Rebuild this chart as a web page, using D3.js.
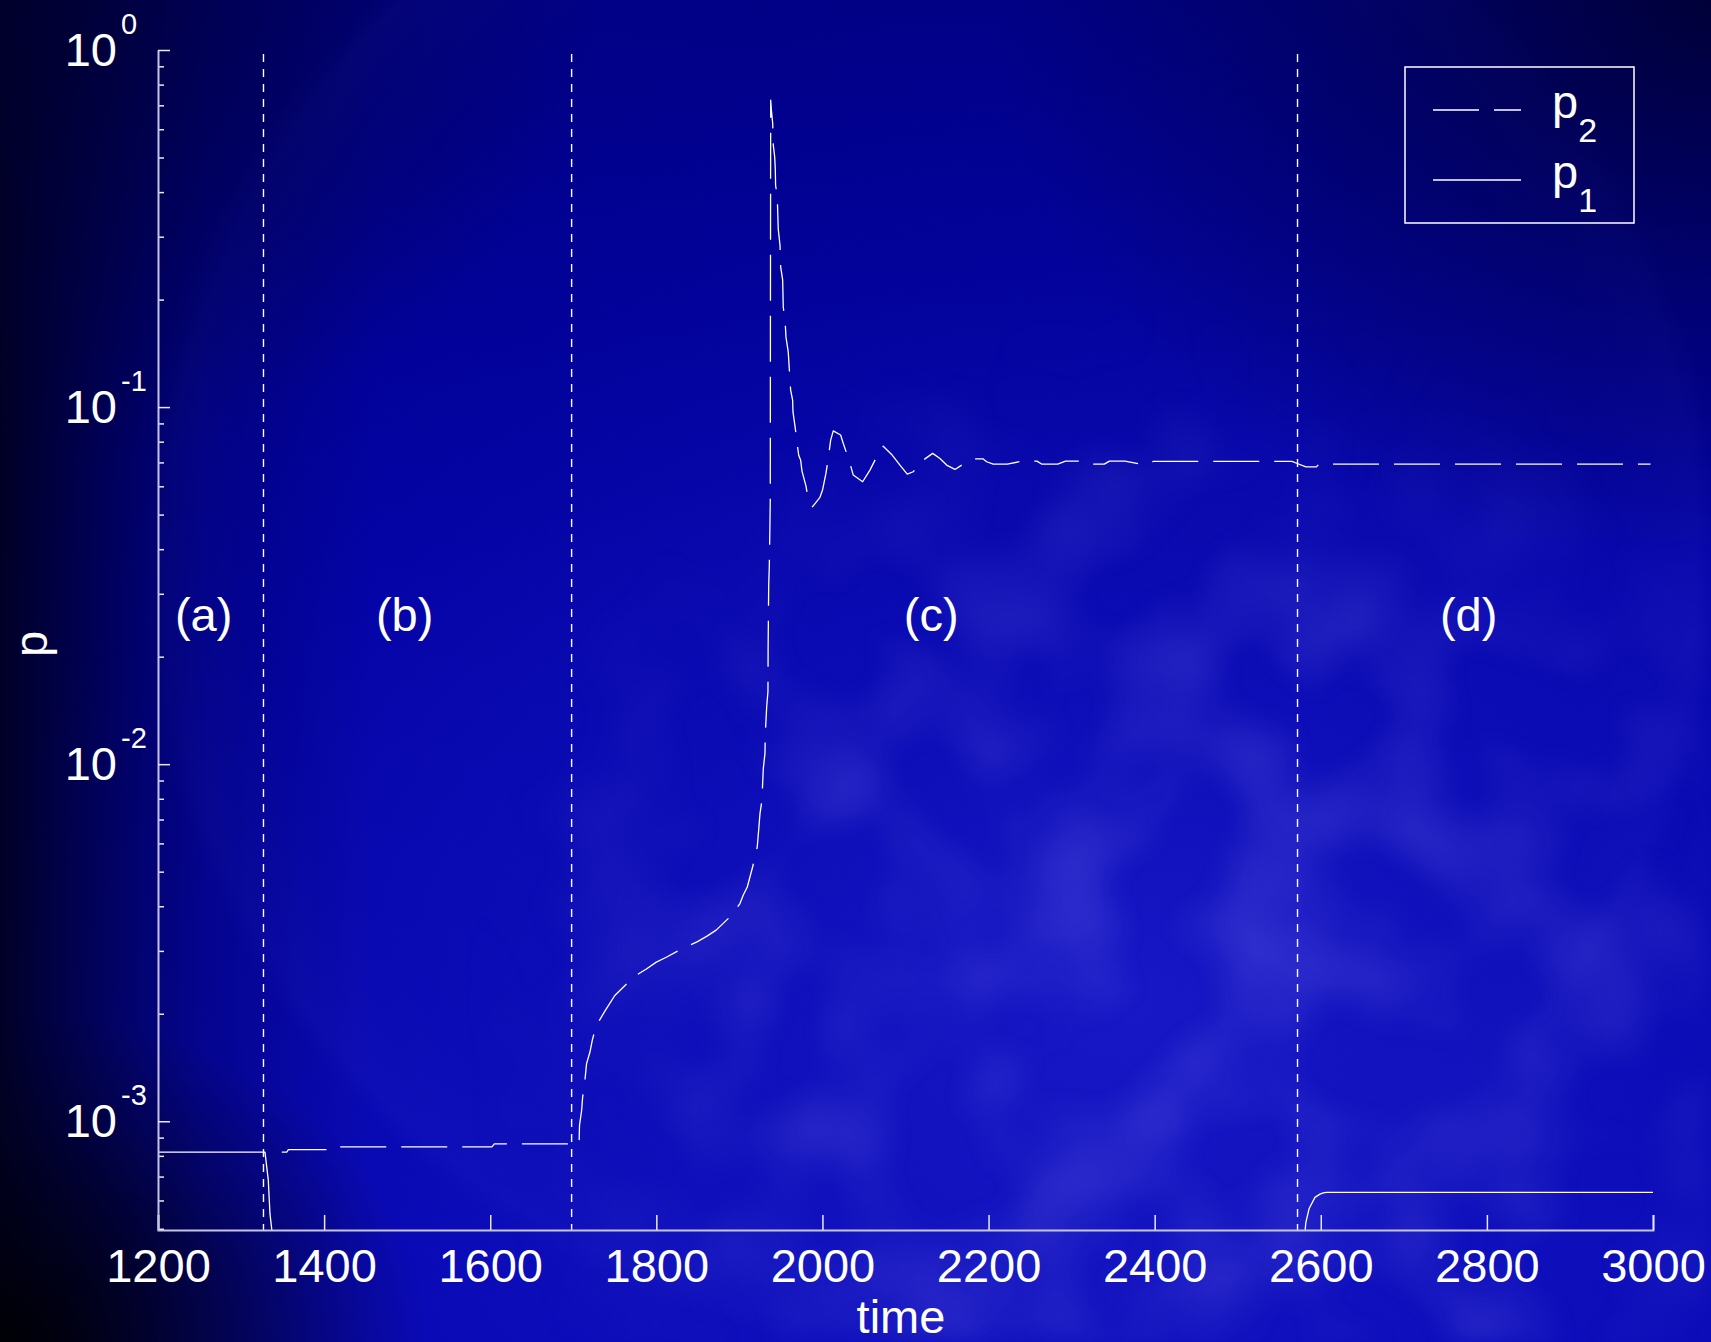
<!DOCTYPE html>
<html><head><meta charset="utf-8">
<script src="https://cdn.jsdelivr.net/npm/d3@7"></script>
<style>html,body{margin:0;padding:0;background:#000;overflow:hidden}</style>
</head><body>
<svg id="chart" width="1711" height="1342"></svg>
<script>
// ---------------- DATA ----------------
const xTickValues = [1200, 1400, 1600, 1800, 2000, 2200, 2400, 2600, 2800, 3000];
const yMajorTicks = [1e-3, 1e-2, 1e-1, 1];
const yTickExponents = ["-3", "-2", "-1", "0"];
const yMinorTicks = [5e-4,6e-4,7e-4,8e-4,9e-4, 2e-3,3e-3,4e-3,5e-3,6e-3,7e-3,8e-3,9e-3,
                     2e-2,3e-2,4e-2,5e-2,6e-2,7e-2,8e-2,9e-2, 0.2,0.3,0.4,0.5,0.6,0.7,0.8,0.9];
const regionBoundaries = [1327, 1698, 2572];
const regionLabels = ["(a)", "(b)", "(c)", "(d)"];
const regionLabelTimes = [1255, 1497, 2131, 2778];
const regionLabelLevel = 0.0236;
const seriesNames = ["p2", "p1"];

// p1 (solid): null marks a break (curve is far below the axis in between)
const p1Time  = [1200, 1328.8, 1330.9, 1332.8, 1334.0, 1334.8, 1336.9, 1339, null, 2578, 2581, 2582, 2586, 2593, 2599, 2603, 2607, 3000];
const p1Value = [8.2e-4, 8.2e-4, 7.45e-4, 6.84e-4, 6.01e-4, 5.51e-4, 5.0e-4, 4.0e-4, null, 4.0e-4, 4.9e-4, 5.2e-4, 5.7e-4, 6.12e-4, 6.25e-4, 6.3e-4, 6.32e-4, 6.32e-4];

// p2 (dashed)
const p2Time = [1349, 1355, 1357, 1406, 1409, 1602, 1605, 1707, 1707.5, 1710, 1711.3, 1714, 1716, 1720, 1723, 1725, 1728,
  1739, 1750, 1773, 1788, 1800, 1812, 1832, 1849, 1861, 1872, 1891, 1900.7, 1904.7, 1909.5, 1912.7, 1916, 1918.8,
  1921.5, 1923.2, 1924.8, 1927.2, 1928.0, 1928.8, 1930.8, 1931.2, 1932.9, 1934.4, 1934.6, 1935.3, 1936.0, 1936.8,
  1937.2, 1937.4, 1937.7, 1938.5, 1940.1, 1940.8, 1942.5, 1943.2, 1943.6, 1945.6, 1946.8, 1948.9, 1949.7, 1952.1,
  1952.8, 1955.2, 1956.1, 1958.8, 1961.7, 1964.1, 1964.5, 1967.3, 1969.0, 1971.4, 1973.8, 1975.3, 1980.2, 1981.7,
  1988.2, 1997.0, 2000.3, 2004.2, 2007.0, 2009.9, 2013.0, 2021.9, 2025.1, 2029.2, 2033.1, 2037.1, 2048.4, 2057.2,
  2065.3, 2073.2, 2083.3, 2093.3, 2102.1, 2109.3, 2117.4, 2132.7, 2141.5, 2149.5, 2159.5, 2169.5, 2181.6, 2193.6,
  2197.7, 2205.6, 2222.5, 2241, 2258.3, 2264.3, 2283.3, 2292.6, 2312.4, 2320.6, 2339.3, 2345.6, 2364.2, 2383,
  2392.3, 2398.5, 2565.3, 2572.5, 2582.1, 2594.7, 2597.8, 2997];
const p2Value = [8.2e-4, 8.2e-4, 8.33e-4, 8.33e-4, 8.48e-4, 8.48e-4, 8.64e-4, 8.64e-4, 9.75e-4, 1.07e-3, 1.17e-3, 1.30e-3,
  1.45e-3, 1.56e-3, 1.69e-3, 1.76e-3, 1.86e-3, 2.05e-3, 2.25e-3, 2.54e-3, 2.67e-3, 2.79e-3, 2.88e-3, 3.05e-3, 3.18e-3,
  3.30e-3, 3.43e-3, 3.78e-3, 4.07e-3, 4.30e-3, 4.53e-3, 4.83e-3, 5.16e-3, 5.50e-3, 5.87e-3, 6.53e-3, 7.27e-3, 7.93e-3,
  8.83e-3, 9.73e-3, 0.0107, 0.0122, 0.0145, 0.0160, 0.0213, 0.0317, 0.0357, 0.0473, 0.0549, 0.2, 0.724, 0.68, 0.623,
  0.542, 0.502, 0.466, 0.418, 0.388, 0.315, 0.284, 0.247, 0.227, 0.191, 0.1716, 0.157, 0.1428, 0.1116, 0.1046, 0.0971,
  0.0872, 0.0808, 0.0733, 0.0710, 0.0663, 0.0601, 0.0573, 0.0526, 0.0559, 0.0588, 0.0652, 0.0718, 0.0808, 0.0858,
  0.0835, 0.0791, 0.0742, 0.0696, 0.0645, 0.0618, 0.0666, 0.0726, 0.0777, 0.0737, 0.0688, 0.0649, 0.0659, 0.0700,
  0.0742, 0.0718, 0.0688, 0.0669, 0.0692, 0.0716, 0.0716, 0.0703, 0.0692, 0.0692, 0.0706, 0.0706, 0.0692, 0.0692,
  0.0706, 0.0706, 0.0692, 0.0692, 0.0706, 0.0706, 0.0692, 0.0692, 0.0705, 0.0705, 0.0694, 0.0680, 0.0680, 0.0692, 0.0692];

// ---------------- CHART ----------------
const W = 1711, H = 1342;
const FONT = "'Liberation Sans', Arial, Helvetica, sans-serif";
const svg = d3.select("#chart");
const defs = svg.append("defs");
function grad(type, id, attrs, stops) {
  const g = defs.append(type).attr("id", id);
  Object.entries(attrs).forEach(([k,v]) => g.attr(k, v));
  stops.forEach(s => g.append("stop").attr("offset", s[0]).attr("stop-color", s[1]).attr("stop-opacity", s[2] == null ? 1 : s[2]));
  return g;
}

// background
grad("linearGradient","bgV",{x1:0,y1:0,x2:0,y2:1},[[0,"#000084"],[0.45,"#0000a0"],[1,"#0808b4"]]);
grad("linearGradient","bgL",{x1:0,y1:0,x2:1,y2:0},[[0,"#000018",0.9],[0.05,"#000028",0.66],[0.12,"#000040",0.28],[0.22,"#000050",0]]);
grad("radialGradient","cTR",{cx:1,cy:0,r:0.42},[[0,"#000030",0.9],[0.5,"#000040",0.45],[1,"#000040",0]]);
grad("radialGradient","cTL",{cx:0,cy:0,r:0.35},[[0,"#000030",0.7],[1,"#000030",0]]);
grad("radialGradient","cBL",{cx:0,cy:1,r:0.25},[[0,"#000005",1],[0.5,"#000010",0.55],[1,"#000020",0]]);
grad("radialGradient","glow",{cx:0.66,cy:0.75,r:0.75},[[0,"#1e1ed0",0.75],[0.55,"#1212c0",0.45],[1,"#0000a8",0]]);
grad("radialGradient","globe",{gradientUnits:"userSpaceOnUse",cx:930,cy:560,r:790},
  [[0,"#2020c0",0],[0.85,"#2020c0",0.05],[0.97,"#3030d0",0.12],[1,"#3030d0",0]]);

const mottle = defs.append("filter").attr("id","mottle").attr("x",0).attr("y",0).attr("width",W).attr("height",H).attr("filterUnits","userSpaceOnUse");
mottle.append("feTurbulence").attr("type","fractalNoise").attr("baseFrequency","0.009").attr("numOctaves",2).attr("seed",7).attr("result","n");
mottle.append("feColorMatrix").attr("in","n").attr("type","matrix")
  .attr("values","0 0 0 0 0.22  0 0 0 0 0.22  0 0 0 0 0.90  1.6 0 0 0 -0.62");
mottle.append("feGaussianBlur").attr("stdDeviation",9);
grad("radialGradient","mmask",{gradientUnits:"userSpaceOnUse",cx:1180,cy:1020,r:720},[[0,"#fff",1],[0.6,"#fff",0.7],[1,"#fff",0]]);
defs.append("mask").attr("id","mottleMask").append("rect").attr("width",W).attr("height",H).attr("fill","url(#mmask)");

svg.append("rect").attr("width",W).attr("height",H).attr("fill","url(#bgV)");
svg.append("rect").attr("width",W).attr("height",H).attr("fill","url(#glow)");
svg.append("circle").attr("cx",930).attr("cy",560).attr("r",790).attr("fill","url(#globe)");
svg.append("g").attr("mask","url(#mottleMask)").append("rect").attr("width",W).attr("height",H).attr("filter","url(#mottle)").attr("opacity",0.4);
svg.append("rect").attr("width",W).attr("height",H).attr("fill","url(#bgL)");
svg.append("rect").attr("width",W).attr("height",H).attr("fill","url(#cTR)");
svg.append("rect").attr("width",W).attr("height",H).attr("fill","url(#cTL)");
svg.append("rect").attr("width",W).attr("height",H).attr("fill","url(#cBL)");

// scales
const M = {left:158, right:1653, top:50, bottom:1230};
const x = d3.scaleLinear().domain([1200, 3000]).range([M.left, M.right]);
const y = d3.scaleLog().domain([4.96e-4, 1]).range([M.bottom, M.top]);

defs.append("clipPath").attr("id","plotClip").append("rect")
  .attr("x",M.left).attr("y",M.top-2).attr("width",M.right-M.left+2).attr("height",M.bottom-M.top+3);

// region boundary lines
svg.append("g").selectAll("line").data(regionBoundaries).join("line")
  .attr("x1",d=>x(d)).attr("x2",d=>x(d)).attr("y1",M.top+4).attr("y2",M.bottom)
  .attr("stroke","#ffffff").attr("stroke-width",1.4).attr("stroke-dasharray","8,7");

// region labels
svg.append("g").selectAll("text").data(regionLabels).join("text")
  .attr("x",(d,i)=>x(regionLabelTimes[i])).attr("y",y(regionLabelLevel))
  .attr("text-anchor","middle").attr("fill","#fff").attr("font-family",FONT).attr("font-size",47)
  .text(d=>d);

// data lines
const line = d3.line().defined(d=>d.t!=null && d.p!=null).x(d=>x(d.t)).y(d=>y(d.p));
const p1Data = p1Time.map((t,i)=>({t, p:p1Value[i]}));
const p2Data = p2Time.map((t,i)=>({t, p:p2Value[i]}));
const plot = svg.append("g").attr("clip-path","url(#plotClip)");
plot.append("path").datum(p1Data).attr("d",line).attr("fill","none")
  .attr("stroke","#ffffff").attr("stroke-width",1.3).attr("stroke-linejoin","round");
plot.append("path").datum(p2Data).attr("d",line).attr("fill","none")
  .attr("stroke","#ffffff").attr("stroke-width",1.3).attr("stroke-dasharray","46,15").attr("stroke-linejoin","round");

// axes
const axisColor = "#c4c4e4";
const xAxis = svg.append("g").attr("transform",`translate(0,${M.bottom})`)
  .call(d3.axisBottom(x).tickValues(xTickValues).tickSize(-15).tickFormat(d3.format("d")));
xAxis.select(".domain").attr("stroke",axisColor).attr("stroke-width",2);
xAxis.selectAll(".tick line").attr("stroke","#e8e8f4").attr("stroke-width",1.5);
xAxis.selectAll(".tick text").attr("y",52).attr("dy",null).attr("fill","#fff")
  .attr("font-family",FONT).attr("font-size",47);

const yMinor = svg.append("g").attr("transform",`translate(${M.left},0)`)
  .call(d3.axisLeft(y).tickValues(yMinorTicks).tickSize(-6).tickFormat(""));
yMinor.select(".domain").remove();
yMinor.selectAll(".tick line").attr("stroke","#e8e8f4").attr("stroke-width",1.5);

const yAxis = svg.append("g").attr("transform",`translate(${M.left},0)`)
  .call(d3.axisLeft(y).tickValues(yMajorTicks).tickSize(-12).tickSizeOuter(0).tickFormat(""));
yAxis.select(".domain").attr("stroke",axisColor).attr("stroke-width",2);
yAxis.selectAll(".tick line").attr("stroke","#e8e8f4").attr("stroke-width",1.5);

// y tick labels with superscripts
const yl = svg.append("g").attr("font-family",FONT).attr("fill","#fff");
yMajorTicks.forEach((v,i)=>{
  const yy = y(v);
  yl.append("text").attr("x",117).attr("y",yy+16).attr("text-anchor","end").attr("font-size",47).text("10");
  yl.append("text").attr("x",121).attr("y",yy-16).attr("font-size",29).text(yTickExponents[i]);
});

// axis titles
svg.append("text").attr("x",901).attr("y",1333).attr("text-anchor","middle").attr("fill","#fff")
  .attr("font-family",FONT).attr("font-size",47).text("time");
svg.append("text").attr("transform","translate(47,644) rotate(-90)").attr("text-anchor","middle").attr("fill","#fff")
  .attr("font-family",FONT).attr("font-size",47).text("p");

// legend
const lg = svg.append("g");
lg.append("rect").attr("x",1405).attr("y",67).attr("width",229).attr("height",156)
  .attr("fill","none").attr("stroke","#ffffff").attr("stroke-width",1.5);
const legendRows = [110, 180];
seriesNames.forEach((name,i)=>{
  const ly = legendRows[i];
  lg.append("line").attr("x1",1433).attr("x2",1521).attr("y1",ly).attr("y2",ly)
    .attr("stroke","#fff").attr("stroke-width",1.4).attr("stroke-dasharray", i===0 ? "46,15" : null);
  const t = lg.append("text").attr("x",1552).attr("y",ly+8).attr("fill","#fff").attr("font-family",FONT).attr("font-size",47);
  t.append("tspan").text(name.charAt(0));
  t.append("tspan").attr("font-size",34).attr("dy",24).text(name.slice(1));
});
</script>
</body></html>
